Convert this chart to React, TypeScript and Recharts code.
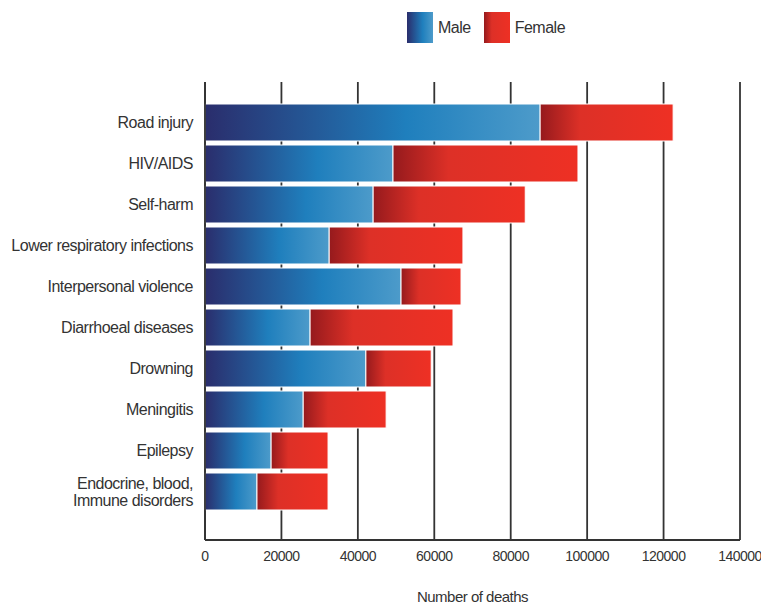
import React from "react";
import { BarChart, Bar, XAxis, YAxis, CartesianGrid } from "recharts";

const causes = [
  "Road injury",
  "HIV/AIDS",
  "Self-harm",
  "Lower respiratory infections",
  "Interpersonal violence",
  "Diarrhoeal diseases",
  "Drowning",
  "Meningitis",
  "Epilepsy",
  "Endocrine, blood,\nImmune disorders",
];
const maleDeaths = [87700, 49200, 44000, 32500, 51300, 27500, 42100, 25700, 17300, 13600];
const femaleDeaths = [34800, 48400, 39800, 35000, 15700, 37400, 17100, 21700, 14900, 18600];
const xTicks = [0, 20000, 40000, 60000, 80000, 100000, 120000, 140000];
const seriesNames = ["Male", "Female"];

const data = causes.map((cause, i) => ({
  cause,
  male: maleDeaths[i],
  female: femaleDeaths[i],
}));

const FONT = "'Liberation Sans', Arial, sans-serif";
const TEXT = "#333";

const maleGradient = "linear-gradient(to right, #2a2d6c 0%, #1f7fbd 60%, #4d9bca 100%)";
const femaleGradient = "linear-gradient(to right, #951a1d 0%, #dd3027 30%, #ee3024 100%)";

// y tick with support for two-line labels
const CauseTick = (props: any) => {
  const { x, y, payload } = props;
  const lines = String(payload.value).split("\n");
  const lh = 17;
  const start = -((lines.length - 1) * lh) / 2;
  return (
    <text
      x={x}
      y={y}
      textAnchor="end"
      fill={TEXT}
      fontSize={16}
      fontFamily={FONT}
      letterSpacing={-0.5}
    >
      {lines.map((l, i) => (
        <tspan key={i} x={x} dy={i === 0 ? start + 5.5 : lh}>
          {l}
        </tspan>
      ))}
    </text>
  );
};

const Legend = () => (
  <div
    style={{
      position: "absolute",
      left: 407,
      top: 12,
      display: "flex",
      alignItems: "center",
      fontFamily: FONT,
      fontSize: 16,
      letterSpacing: -0.5,
      color: TEXT,
    }}
  >
    {seriesNames.map((name, i) => (
      <div key={name} style={{ display: "flex", alignItems: "center", marginRight: 13 }}>
        <div
          style={{
            width: 26,
            height: 31,
            background: i === 0 ? maleGradient : femaleGradient,
            marginRight: 5,
          }}
        />
        <span>{name}</span>
      </div>
    ))}
  </div>
);

export default function App() {
  return (
    <div style={{ position: "absolute", left: 0, top: 0, width: 761, height: 605, background: "#fff" }}>
      <Legend />
      <BarChart
        width={761}
        height={605}
        data={data}
        layout="vertical"
        margin={{ top: 82, right: 21, bottom: 3, left: 0 }}
        barCategoryGap={2}
      >
        <defs>
          <linearGradient id="maleGrad" x1="0" y1="0" x2="1" y2="0">
            <stop offset="0%" stopColor="#2a2d6c" />
            <stop offset="60%" stopColor="#1f7fbd" />
            <stop offset="100%" stopColor="#4d9bca" />
          </linearGradient>
          <linearGradient id="femaleGrad" x1="0" y1="0" x2="1" y2="0">
            <stop offset="0%" stopColor="#951a1d" />
            <stop offset="30%" stopColor="#dd3027" />
            <stop offset="100%" stopColor="#ee3024" />
          </linearGradient>
        </defs>
        <CartesianGrid horizontal={false} stroke="#333" strokeWidth={1.8} />
        <XAxis
          type="number"
          domain={[0, 140000]}
          ticks={xTicks}
          interval={0}
          tickLine={false}
          tickSize={6}
          tickMargin={5}
          axisLine={{ stroke: "#333", strokeWidth: 1.8 }}
          height={62}
          tick={{ fill: TEXT, fontSize: 14, fontFamily: FONT, letterSpacing: -0.5 }}
          label={{
            value: "Number of deaths",
            position: "insideBottom",
            offset: 0,
            fill: TEXT,
            fontSize: 15,
            fontFamily: FONT,
            letterSpacing: -0.5,
          }}
        />
        <YAxis
          type="category"
          dataKey="cause"
          width={205}
          interval={0}
          tickLine={false}
          tickSize={6}
          tickMargin={6}
          axisLine={{ stroke: "#333", strokeWidth: 1.8 }}
          padding={{ top: 20, bottom: 28 }}
          tick={<CauseTick />}
        />
        <Bar
          dataKey="male"
          name={seriesNames[0]}
          stackId="a"
          fill="url(#maleGrad)"
          stroke="#fff"
          strokeWidth={1}
          isAnimationActive={false}
        />
        <Bar
          dataKey="female"
          name={seriesNames[1]}
          stackId="a"
          fill="url(#femaleGrad)"
          stroke="#fff"
          strokeWidth={1}
          isAnimationActive={false}
        />
      </BarChart>
    </div>
  );
}
